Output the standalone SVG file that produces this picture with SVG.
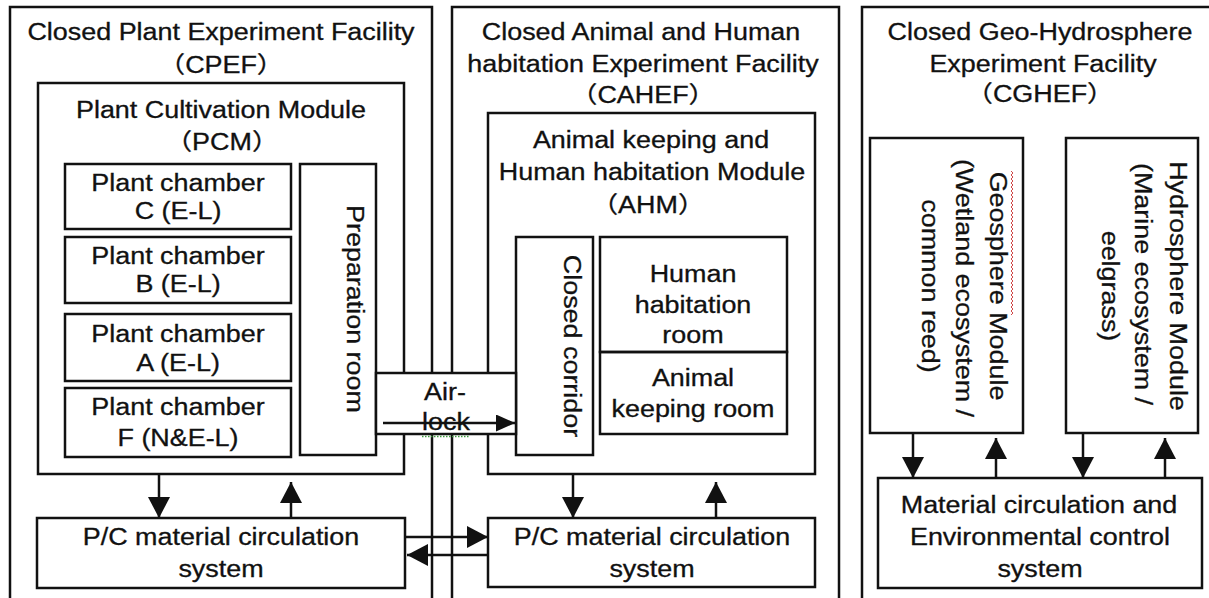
<svg xmlns="http://www.w3.org/2000/svg" width="1209" height="598" viewBox="0 0 1209 598">
<style>
.box{fill:none;stroke:#111;stroke-width:2.5}
.wbox{fill:#fff;stroke:#111;stroke-width:2.5}
.t{font-family:"Liberation Sans","Noto Sans CJK JP",sans-serif;font-size:23px;fill:#111;stroke:#111;stroke-width:0.3;text-anchor:middle}
.c{stroke:#111;stroke-width:2.5;fill:none}
</style>
<defs>
<marker id="ah" markerUnits="userSpaceOnUse" markerWidth="21" markerHeight="22" viewBox="0 0 21 22" refX="21" refY="11" orient="auto"><path d="M0,0 L21,11 L0,22 z" fill="#111"/></marker>
<marker id="ahs" markerUnits="userSpaceOnUse" markerWidth="19" markerHeight="17" viewBox="0 0 19 17" refX="19" refY="8.5" orient="auto"><path d="M0,0 L19,8.5 L0,17 z" fill="#111"/></marker>
</defs>
<rect width="1209" height="598" fill="#fff"/>

<g id="cpef">
<rect class="box" x="10" y="7" width="422" height="620"/>
<text class="t" transform="translate(221 40) scale(1.17 1)">Closed Plant Experiment Facility</text>
<text class="t" transform="translate(221 73) scale(1.17 1)">（CPEF）</text>
</g>
<g id="pcm">
<rect class="box" x="38" y="83" width="366" height="391"/>
<text class="t" transform="translate(221 118) scale(1.17 1)">Plant Cultivation Module</text>
<text class="t" transform="translate(222 150) scale(1.17 1)">（PCM）</text>
</g>
<g id="chamberC">
<rect class="box" x="65" y="164" width="226" height="65"/>
<text class="t" transform="translate(178 191) scale(1.17 1)">Plant chamber</text>
<text class="t" transform="translate(178 219) scale(1.17 1)">C (E-L)</text>
</g>
<g id="chamberB">
<rect class="box" x="65" y="237" width="226" height="66"/>
<text class="t" transform="translate(178 264) scale(1.17 1)">Plant chamber</text>
<text class="t" transform="translate(178 292) scale(1.17 1)">B (E-L)</text>
</g>
<g id="chamberA">
<rect class="box" x="65" y="314" width="226" height="67"/>
<text class="t" transform="translate(178 342) scale(1.17 1)">Plant chamber</text>
<text class="t" transform="translate(178 371) scale(1.17 1)">A (E-L)</text>
</g>
<g id="chamberF">
<rect class="box" x="65" y="388" width="226" height="69"/>
<text class="t" transform="translate(178 415) scale(1.17 1)">Plant chamber</text>
<text class="t" transform="translate(178 446) scale(1.17 1)">F (N&amp;E-L)</text>
</g>
<g id="prep">
<rect class="box" x="300" y="164" width="76" height="291"/>
<text class="t" transform="translate(347 309) rotate(90) scale(1.17 1)">Preparation room</text>
</g>

<g id="cahef">
<rect class="box" x="452" y="7" width="387" height="620"/>
<text class="t" transform="translate(641 40) scale(1.17 1)">Closed Animal and Human</text>
<text class="t" transform="translate(643 72) scale(1.17 1)">habitation Experiment Facility</text>
<text class="t" transform="translate(643 103) scale(1.17 1)">（CAHEF）</text>
</g>
<g id="ahm">
<rect class="box" x="488" y="113" width="327" height="361"/>
<text class="t" transform="translate(651 148) scale(1.17 1)">Animal keeping and</text>
<text class="t" transform="translate(652 180) scale(1.17 1)">Human habitation Module</text>
<text class="t" transform="translate(648 213) scale(1.17 1)">（AHM）</text>
</g>
<g id="corridor">
<rect class="box" x="516" y="237" width="77" height="218"/>
<text class="t" transform="translate(564 346) rotate(90) scale(1.17 1)">Closed corridor</text>
</g>
<g id="human">
<rect class="box" x="600" y="237" width="187" height="115"/>
<text class="t" transform="translate(693 282) scale(1.17 1)">Human</text>
<text class="t" transform="translate(693 313) scale(1.17 1)">habitation</text>
<text class="t" transform="translate(693 343) scale(1.17 1)">room</text>
</g>
<g id="animal">
<rect class="box" x="600" y="352" width="187" height="82"/>
<text class="t" transform="translate(693 386) scale(1.17 1)">Animal</text>
<text class="t" transform="translate(693 417) scale(1.17 1)">keeping room</text>
</g>

<g id="airlock">
<rect class="wbox" x="376" y="373" width="140" height="61"/>
<text class="t" transform="translate(445 400) scale(1.17 1)">Air-</text>
<text class="t" transform="translate(446 430) scale(1.17 1)">lock</text>
<line x1="422" y1="436.5" x2="470" y2="436.5" stroke="#3c9a3c" stroke-width="1.5" stroke-dasharray="1.5 1.5"/>
</g>

<g id="pcLeft">
<rect class="box" x="37" y="518" width="368" height="70"/>
<text class="t" transform="translate(221 545) scale(1.17 1)">P/C material circulation</text>
<text class="t" transform="translate(221 577) scale(1.17 1)">system</text>
</g>
<g id="pcRight">
<rect class="box" x="488" y="518" width="327" height="69"/>
<text class="t" transform="translate(652 545) scale(1.17 1)">P/C material circulation</text>
<text class="t" transform="translate(652 577) scale(1.17 1)">system</text>
</g>

<g id="cghef">
<rect class="box" x="862" y="7" width="400" height="620"/>
<text class="t" transform="translate(1040 40) scale(1.17 1)">Closed Geo-Hydrosphere</text>
<text class="t" transform="translate(1043 72) scale(1.17 1)">Experiment Facility</text>
<text class="t" transform="translate(1040 102) scale(1.17 1)">（CGHEF）</text>
</g>
<g id="geo">
<rect class="box" x="870" y="138" width="153" height="295"/>
<text class="t" transform="translate(990 286) rotate(90) scale(1.17 1)">Geosphere Module</text>
<text class="t" transform="translate(956 288) rotate(90) scale(1.17 1)">(Wetland ecosystem /</text>
<text class="t" transform="translate(922 286) rotate(90) scale(1.17 1)">common reed)</text>
<path d="M1011,171 l2,2 l-2,2 l2,2 l-2,2 l2,2 l-2,2 l2,2 l-2,2 l2,2 l-2,2 l2,2 l-2,2 l2,2 l-2,2 l2,2 l-2,2 l2,2 l-2,2 l2,2 l-2,2 l2,2 l-2,2 l2,2 l-2,2 l2,2 l-2,2 l2,2 l-2,2 l2,2 l-2,2 l2,2 l-2,2 l2,2 l-2,2 l2,2 l-2,2 l2,2 l-2,2 l2,2 l-2,2 l2,2 l-2,2 l2,2 l-2,2 l2,2 l-2,2 l2,2 l-2,2 l2,2 l-2,2 l2,2 l-2,2 l2,2 l-2,2 l2,2 l-2,2 l2,2 l-2,2 l2,2 l-2,2 l2,2 l-2,2 l2,2 l-2,2 l2,2 l-2,2 l2,2 l-2,2 l2,2 l-2,2 l2,2 l-2,2" fill="none" stroke="#d04848" stroke-width="1"/>
</g>
<g id="hydro">
<rect class="box" x="1066" y="138" width="132" height="295"/>
<text class="t" transform="translate(1170 286) rotate(90) scale(1.17 1)">Hydrosphere Module</text>
<text class="t" transform="translate(1135 284) rotate(90) scale(1.17 1)">(Marine ecosystem /</text>
<text class="t" transform="translate(1102 286) rotate(90) scale(1.17 1)">eelgrass)</text>
</g>
<g id="mce">
<rect class="box" x="878" y="478" width="324" height="110"/>
<text class="t" transform="translate(1039 513) scale(1.17 1)">Material circulation and</text>
<text class="t" transform="translate(1040 545) scale(1.17 1)">Environmental control</text>
<text class="t" transform="translate(1040 577) scale(1.17 1)">system</text>
</g>

<g id="connectors">
<line class="c" x1="383" y1="423" x2="515" y2="423" marker-end="url(#ahs)"/>
<line class="c" x1="159" y1="474" x2="159" y2="518" marker-end="url(#ah)"/>
<line class="c" x1="291" y1="518" x2="291" y2="482" marker-end="url(#ah)"/>
<line class="c" x1="573" y1="474" x2="573" y2="518" marker-end="url(#ah)"/>
<line class="c" x1="716" y1="518" x2="716" y2="482" marker-end="url(#ah)"/>
<line class="c" x1="405" y1="537" x2="488" y2="537" marker-end="url(#ah)"/>
<line class="c" x1="488" y1="555" x2="407" y2="555" marker-end="url(#ah)"/>
<line class="c" x1="913" y1="433" x2="913" y2="478" marker-end="url(#ah)"/>
<line class="c" x1="996" y1="478" x2="996" y2="438" marker-end="url(#ah)"/>
<line class="c" x1="1083" y1="433" x2="1083" y2="478" marker-end="url(#ah)"/>
<line class="c" x1="1165" y1="478" x2="1165" y2="438" marker-end="url(#ah)"/>
</g>
</svg>
